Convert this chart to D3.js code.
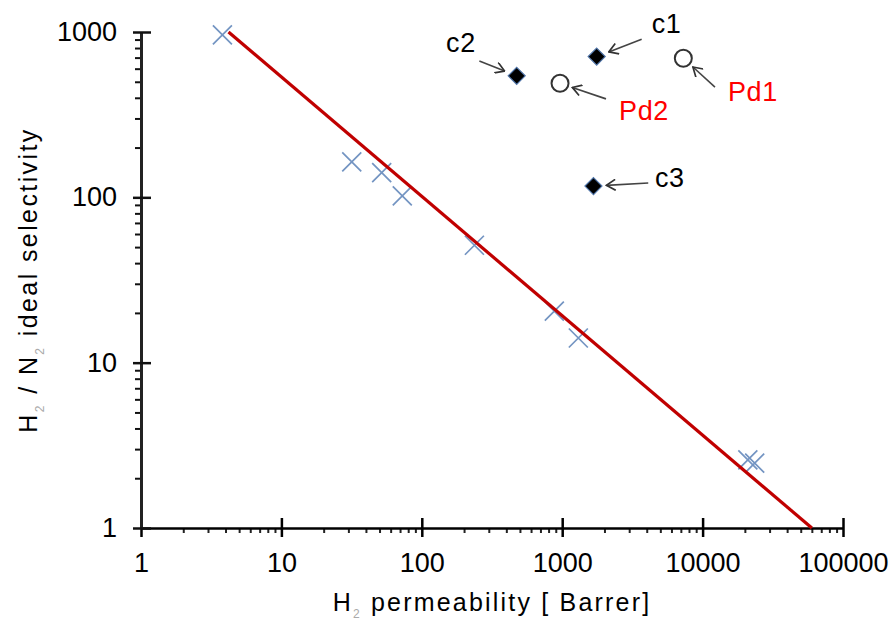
<!DOCTYPE html>
<html>
<head>
<meta charset="utf-8">
<script src="https://cdn.jsdelivr.net/npm/d3@7"></script>
<style>
	body { margin: 0; background: #fff; }
	text { font-family: "Liberation Sans", Arial, sans-serif; }
</style>
</head>
<body>
<div id="chart"></div>
<script>
// tick values
var xTicks = [1, 10, 100, 1000, 10000, 100000];
var yTicks = [1, 10, 100, 1000];

// polymer membranes (x markers)
var polymerPerm = [3.8, 31.7, 51.8, 72.6, 237, 879, 1303, 21000, 23500];
var polymerSel  = [960, 164, 141, 102, 51.3, 20.5, 14.1, 2.58, 2.47];

// upper bound line, two ends
var boundPerm = [4.2, 60000];
var boundSel  = [1000, 1];

// composite membranes (black diamonds)
var compNames = ['c1', 'c2', 'c3'];
var compPerm  = [1760, 474, 1670];
var compSel   = [710, 543, 117];

// Pd membranes (open circles)
var pdNames = ['Pd1', 'Pd2'];
var pdPerm  = [7290, 965];
var pdSel   = [694, 490];

// annotations : arrow tail and label start, in data units
var noteNames = ['c1', 'c2', 'c3', 'Pd1', 'Pd2'];
var noteTailPerm  = [3680, 257, 4100, 12250, 2050];
var noteTailSel   = [904, 668, 122, 464, 394];
var noteLabelPerm = [4340, 149, 4580, 15170, 2540];
var noteLabelSel  = [988, 758, 116, 383, 294];

var options = {
	w: 894,
	h: 620,
	margin: { top: 32, right: 51, bottom: 92, left: 141 },
	font: 27,
	arrowGap: 13
};

var x = d3.scaleLog()
	.domain([1, 100000])
	.range([options.margin.left, options.w - options.margin.right]);

var y = d3.scaleLog()
	.domain([1, 1000])
	.range([options.h - options.margin.bottom, options.margin.top]);

function minorTicks(lo, hi){
	var out = [];
	for (var p = lo; p < hi; p *= 10) {
		for (var k = 2; k <= 9; k++) out.push(p * k);
	}
	return out;
}

var svg = d3.select('#chart')
	.append('svg')
	.attr('width', options.w)
	.attr('height', options.h);

svg.append('defs')
	.append('marker')
	.attr('id', 'head')
	.attr('viewBox', '-11 -6 12 12')
	.attr('refX', 0)
	.attr('refY', 0)
	.attr('markerUnits', 'userSpaceOnUse')
	.attr('markerWidth', 12)
	.attr('markerHeight', 12)
	.attr('orient', 'auto')
	.append('path')
	.attr('d', 'M-9,-5.5L0,0L-9,5.5')
	.attr('fill', 'none')
	.attr('stroke', '#333')
	.attr('stroke-width', 1.7);

var x0 = options.margin.left,
	y0 = options.h - options.margin.bottom;

// ---- axes
var gx = svg.append('g')
	.attr('transform', 'translate(0,' + y0 + ')');

gx.append('g')
	.call(d3.axisBottom(x).tickValues(minorTicks(1, 100000)).tickFormat('').tickSize(5).tickSizeOuter(0))
	.call(function(g){ g.select('.domain').remove(); })
	.selectAll('line').attr('stroke', '#222').attr('stroke-width', 2);

gx.append('g')
	.call(d3.axisBottom(x).tickValues(xTicks).tickFormat(d3.format('d')).tickSize(9).tickSizeOuter(0).tickPadding(16))
	.call(function(g){
		g.select('.domain').attr('stroke', '#000').attr('stroke-width', 2.5);
		g.selectAll('.tick line').attr('y1', -10).attr('stroke', '#000').attr('stroke-width', 2.5);
		g.selectAll('.tick text')
			.attr('fill', '#000')
			.style('font-size', options.font + 'px')
			.style('font-family', '"Liberation Sans", Arial, sans-serif');
	});

var gy = svg.append('g')
	.attr('transform', 'translate(' + x0 + ',0)');

gy.append('g')
	.call(d3.axisLeft(y).tickValues(minorTicks(1, 1000)).tickFormat('').tickSize(6).tickSizeOuter(0))
	.call(function(g){ g.select('.domain').remove(); })
	.selectAll('line').attr('stroke', '#111').attr('stroke-width', 2);

gy.append('g')
	.call(d3.axisLeft(y).tickValues(yTicks).tickFormat(d3.format('d')).tickSize(8).tickSizeOuter(0).tickPadding(16))
	.call(function(g){
		g.select('.domain').attr('stroke', '#222').attr('stroke-width', 3);
		g.selectAll('.tick line').attr('x1', 10).attr('stroke', '#111').attr('stroke-width', 2.5);
		g.selectAll('.tick text')
			.attr('fill', '#000')
			.style('font-size', options.font + 'px')
			.style('font-family', '"Liberation Sans", Arial, sans-serif');
	});

// ---- axis titles
var xTitle = svg.append('text')
	.attr('x', (x.range()[0] + x.range()[1]) / 2)
	.attr('y', 611)
	.attr('text-anchor', 'middle')
	.style('font-size', '25px')
	.style('letter-spacing', '2.2px');
xTitle.append('tspan').text('H');
xTitle.append('tspan').attr('dy', 7).style('font-size', '12px').attr('fill', '#aaa').text('2');
xTitle.append('tspan').attr('dy', -7).text(' permeability [ Barrer]');

var yTitle = svg.append('text')
	.attr('transform', 'translate(37,' + ((y.range()[0] + y.range()[1]) / 2) + ') rotate(-90)')
	.attr('text-anchor', 'middle')
	.style('font-size', '25px')
	.style('letter-spacing', '2.4px');
yTitle.append('tspan').text('H');
yTitle.append('tspan').attr('dy', 7).style('font-size', '12px').attr('fill', '#aaa').text('2');
yTitle.append('tspan').attr('dy', -7).text(' / N');
yTitle.append('tspan').attr('dy', 7).style('font-size', '12px').attr('fill', '#aaa').text('2');
yTitle.append('tspan').attr('dy', -7).text(' ideal selectivity');

// ---- polymer points
var half = 9.5;
svg.append('g')
	.selectAll('path')
	.data(polymerPerm)
	.enter()
	.append('path')
	.attr('transform', function(d, i){ return 'translate(' + x(d) + ',' + y(polymerSel[i]) + ')'; })
	.attr('d', 'M' + (-half) + ',' + (-half) + 'L' + half + ',' + half + 'M' + (-half) + ',' + half + 'L' + half + ',' + (-half))
	.attr('fill', 'none')
	.attr('stroke', '#7394c2')
	.attr('stroke-width', 1.7);

// ---- upper bound line
svg.append('path')
	.datum(boundPerm)
	.attr('d', d3.line()
		.x(function(d){ return x(d); })
		.y(function(d, i){ return y(boundSel[i]); }))
	.attr('fill', 'none')
	.attr('stroke', '#c00000')
	.attr('stroke-width', 3.2);

// ---- composite diamonds
svg.append('g')
	.selectAll('path')
	.data(compPerm)
	.enter()
	.append('path')
	.attr('transform', function(d, i){ return 'translate(' + x(d) + ',' + y(compSel[i]) + ')'; })
	.attr('d', 'M0,-8.5L8.5,0L0,8.5L-8.5,0Z')
	.attr('fill', '#000')
	.attr('stroke', '#4f74a8')
	.attr('stroke-width', 1.2);

// ---- Pd circles
svg.append('g')
	.selectAll('circle')
	.data(pdPerm)
	.enter()
	.append('circle')
	.attr('cx', function(d){ return x(d); })
	.attr('cy', function(d, i){ return y(pdSel[i]); })
	.attr('r', 8.5)
	.attr('fill', 'none')
	.attr('stroke', '#333')
	.attr('stroke-width', 2);

// ---- annotations
function pointOf(name){
	var i = compNames.indexOf(name);
	if (i >= 0) return [x(compPerm[i]), y(compSel[i])];
	i = pdNames.indexOf(name);
	return [x(pdPerm[i]), y(pdSel[i])];
}

var notes = svg.append('g');
noteNames.forEach(function(name, i){
	var p = pointOf(name),
		tx = x(noteTailPerm[i]),
		ty = y(noteTailSel[i]),
		dx = tx - p[0],
		dy = ty - p[1],
		len = Math.sqrt(dx * dx + dy * dy),
		hx = p[0] + dx / len * options.arrowGap,
		hy = p[1] + dy / len * options.arrowGap;

	notes.append('line')
		.attr('x1', tx).attr('y1', ty)
		.attr('x2', hx).attr('y2', hy)
		.attr('stroke', '#444')
		.attr('stroke-width', 1.6)
		.attr('marker-end', 'url(#head)');

	notes.append('text')
		.attr('x', x(noteLabelPerm[i]))
		.attr('y', y(noteLabelSel[i]))
		.attr('fill', name.indexOf('Pd') === 0 ? '#ff0000' : '#000')
		.style('font-size', '27px')
		.style('letter-spacing', '0.6px')
		.text(name);
});
</script>
</body>
</html>
